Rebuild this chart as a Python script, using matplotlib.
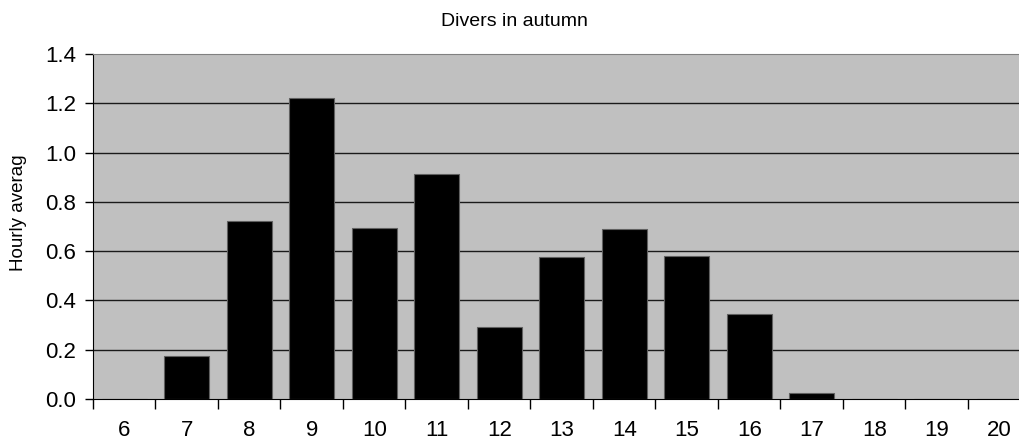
import matplotlib.pyplot as plt
import numpy as np

# -------- data --------
hours = ['6', '7', '8', '9', '10', '11', '12', '13', '14', '15', '16', '17', '18', '19', '20']
hourly_avg = [0.0, 0.176, 0.722, 1.22, 0.695, 0.912, 0.291, 0.575, 0.689, 0.582, 0.345, 0.023, 0.0, 0.0, 0.0]
y_ticks = [0.0, 0.2, 0.4, 0.6, 0.8, 1.0, 1.2, 1.4]

plt.rcParams['font.family'] = ['Liberation Sans', 'DejaVu Sans']

fig = plt.figure(figsize=(10.2, 4.44), dpi=100)
# plot area runs past the right edge of the image, as in the original
ax = fig.add_axes([93 / 1020, 1 - 399 / 444, 937.5 / 1020, 345 / 444])
ax.set_facecolor('#c0c0c0')

x = np.arange(len(hours))
ax.bar(x, hourly_avg, width=0.72, color='black', edgecolor='#606060', linewidth=0.8, zorder=3)

ax.set_xlim(-0.5, len(hours) - 0.5)
ax.set_ylim(0, 1.4)
ax.set_yticks(y_ticks)
ax.set_yticklabels([f'{v:.1f}' for v in y_ticks])
for v in y_ticks[1:-1]:
    ax.axhline(v, color='#1a1a1a', linewidth=1.0, zorder=1)

# category labels centred, tick marks on the boundaries
ax.set_xticks(x)
ax.set_xticklabels(hours)
ax.set_xticks(np.arange(-0.5, len(hours)), minor=True)
ax.tick_params(axis='x', which='major', length=0, pad=15, labelsize=16)
ax.tick_params(axis='x', which='minor', length=7, width=1, color='black')
ax.tick_params(axis='y', length=6, width=1, pad=6, labelsize=16)

ax.spines['top'].set_color('#808080')
ax.spines['right'].set_visible(False)
ax.spines['left'].set_color('black')
ax.spines['bottom'].set_color('black')

fig.text(514 / 1020, 1 - 21 / 444, 'Divers in autumn', ha='center', va='center', fontsize=14)
fig.text(19 / 1020, 1 - 213 / 444, 'Hourly averag', rotation=90, ha='center', va='center', fontsize=13.5)

fig.savefig('out.png', dpi=100)
